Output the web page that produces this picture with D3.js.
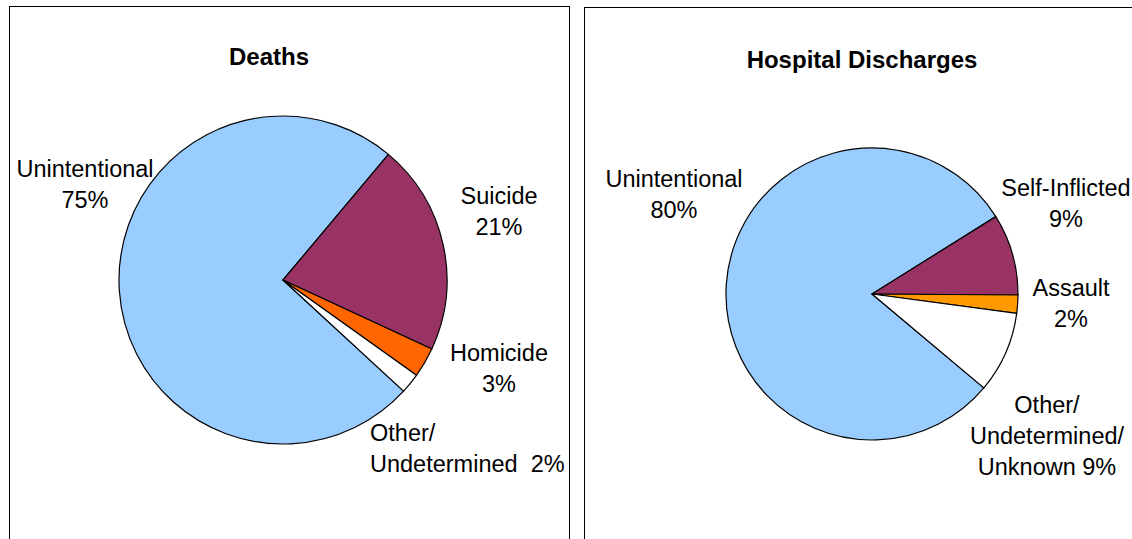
<!DOCTYPE html>
<html>
<head>
<meta charset="utf-8">
<script src="https://cdn.jsdelivr.net/npm/d3@7"></script>
<style>
  html, body { margin: 0; padding: 0; background: #fff; }
  svg { display: block; }
  text { font-family: "Liberation Sans", Arial, sans-serif; fill: #000; }
</style>
</head>
<body>
<svg id="chart" width="1132" height="539"></svg>
<script>
// Injury deaths by intent
const deathCategories = ["Unintentional", "Suicide", "Homicide", "Other/Undetermined"];
const deathValues = [75, 21, 3, 2];
const deathColors = ["#99CCFF", "#993366", "#FF6600", "#FFFFFF"];
const deathLabels = [["Unintentional", "75%"], ["Suicide", "21%"], ["Homicide", "3%"], ["Other/", "Undetermined  2%"]];

// Injury hospital discharges by intent
const dischargeCategories = ["Unintentional", "Self-Inflicted", "Assault", "Other/Undetermined/Unknown"];
const dischargeValues = [80, 9, 2, 9];
const dischargeColors = ["#99CCFF", "#993366", "#FF9900", "#FFFFFF"];
const dischargeLabels = [["Unintentional", "80%"], ["Self-Inflicted", "9%"], ["Assault", "2%"], ["Other/", "Undetermined/", "Unknown 9%"]];

const svg = d3.select("#chart");

const panels = [
  {
    title: "Deaths", cats: deathCategories, values: deathValues, colors: deathColors, labels: deathLabels,
    frame: { x: 9.5, y: 6.5, w: 560, h: 560 }, titleX: 269, titleY: 65,
    cx: 283, cy: 280, r: 164, secondStart: 40,
    labelPos: [
      { x: 85, y: 177, anchor: "middle" },
      { x: 499, y: 204, anchor: "middle" },
      { x: 499, y: 361, anchor: "middle" },
      { x: 370, y: 441, anchor: "start" }
    ]
  },
  {
    title: "Hospital Discharges", cats: dischargeCategories, values: dischargeValues, colors: dischargeColors, labels: dischargeLabels,
    frame: { x: 584.5, y: 7.5, w: 580, h: 560 }, titleX: 862, titleY: 68,
    cx: 872, cy: 294, r: 146, secondStart: 58,
    labelPos: [
      { x: 674, y: 187, anchor: "middle" },
      { x: 1066, y: 196, anchor: "middle" },
      { x: 1071, y: 296, anchor: "middle" },
      { x: 1047, y: 413, anchor: "middle" }
    ]
  }
];

const lineGap = 31;

panels.forEach(p => {
  const g = svg.append("g");

  g.append("rect")
    .attr("x", p.frame.x).attr("y", p.frame.y)
    .attr("width", p.frame.w).attr("height", p.frame.h)
    .attr("fill", "#fff").attr("stroke", "#000").attr("stroke-width", 1);

  g.append("text")
    .attr("x", p.titleX).attr("y", p.titleY)
    .attr("text-anchor", "middle")
    .attr("font-size", 24).attr("font-weight", "bold")
    .text(p.title);

  // Rotate so that the first slice ends where the second slice begins
  const total = d3.sum(p.values);
  const firstSpan = p.values[0] / total * 2 * Math.PI;
  const start = p.secondStart * Math.PI / 180 + 2 * Math.PI - firstSpan;

  const pie = d3.pie().sort(null).value(d => d)
    .startAngle(start).endAngle(start + 2 * Math.PI);
  const arc = d3.arc().innerRadius(0).outerRadius(p.r);

  const color = d3.scaleOrdinal().domain(p.cats).range(p.colors);

  g.append("g").attr("transform", `translate(${p.cx},${p.cy})`)
    .selectAll("path")
    .data(pie(p.values))
    .join("path")
    .attr("d", arc)
    .attr("fill", (d, i) => color(p.cats[i]))
    .attr("stroke", "#000")
    .attr("stroke-width", 1.2)
    .attr("stroke-linejoin", "round");

  p.labels.forEach((lines, i) => {
    const pos = p.labelPos[i];
    const t = g.append("text")
      .attr("x", pos.x).attr("y", pos.y)
      .attr("text-anchor", pos.anchor)
      .attr("font-size", 23.5)
      .attr("xml:space", "preserve")
      .style("white-space", "pre");
    lines.forEach((ln, j) => {
      t.append("tspan").attr("x", pos.x).attr("y", pos.y + j * lineGap).text(ln);
    });
  });
});
</script>
</body>
</html>
